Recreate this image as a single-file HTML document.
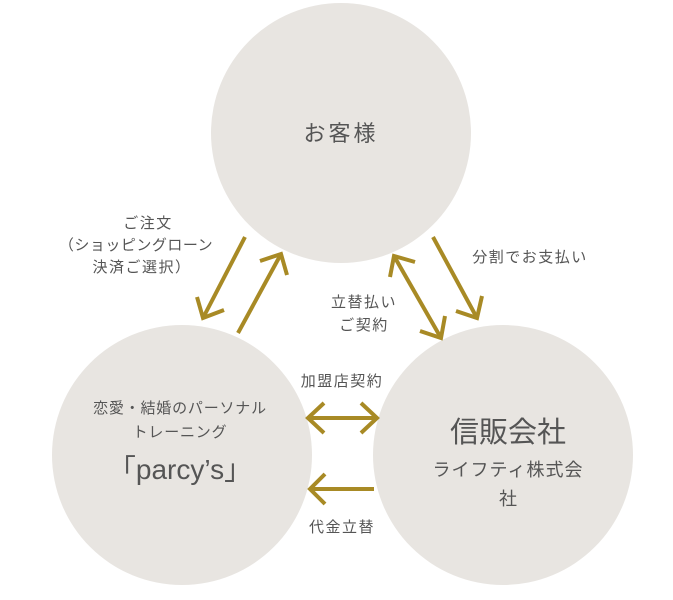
<!DOCTYPE html>
<html><head><meta charset="utf-8"><style>
html,body{margin:0;padding:0;background:#fff;}
svg text{font-family:"Liberation Sans","Noto Sans CJK JP",sans-serif;fill:#555;}
</style></head><body>
<svg width="673" height="595" viewBox="0 0 673 595" xmlns="http://www.w3.org/2000/svg">
<circle cx="341" cy="133" r="130" fill="#e8e5e1"/>
<circle cx="182" cy="455" r="130" fill="#e8e5e1"/>
<circle cx="503" cy="455" r="130" fill="#e8e5e1"/>
<g stroke="#a88a25" stroke-width="4" fill="none" stroke-linecap="butt">
<line x1="245" y1="237" x2="203" y2="318"/><polyline points="197,297 203,318 224,310"/>
<line x1="238" y1="333" x2="281" y2="254"/><polyline points="260,261 281,254 287,275"/>
<line x1="394" y1="256" x2="441" y2="338"/><polyline points="390,277 394,256 415,262"/><polyline points="420,331 441,338 445,316"/>
<line x1="433" y1="237" x2="477" y2="318"/><polyline points="456,311 477,318 482,296"/>
<line x1="308" y1="418" x2="377" y2="418"/><polyline points="324,403 308,418 324,433"/><polyline points="361,403 377,418 361,433"/>
<line x1="374" y1="489" x2="310" y2="489"/><polyline points="325,474 310,489 325,504"/>
</g>
<text x="341" y="141" font-size="22" text-anchor="middle" letter-spacing="3">お客様</text>
<g font-size="15" text-anchor="middle" letter-spacing="1.5">
<text x="148" y="228">ご注文</text>
<text x="136" y="250" letter-spacing="0.5">（ショッピングローン</text>
<text x="142" y="272">決済ご選択）</text>
<text x="530" y="262">分割でお支払い</text>
<text x="364" y="307">立替払い</text>
<text x="364" y="330">ご契約</text>
<text x="342" y="386">加盟店契約</text>
<text x="342" y="532">代金立替</text>
</g>
<text x="180" y="413" font-size="15" text-anchor="middle" letter-spacing="0.8">恋愛・結婚のパーソナル</text>
<text x="180" y="437" font-size="15" text-anchor="middle" letter-spacing="0.8">トレーニング</text>
<text x="180" y="479" font-size="28" text-anchor="middle">「parcy’s」</text>
<text x="508" y="442" font-size="29" text-anchor="middle">信販会社</text>
<text x="508" y="476" font-size="18" text-anchor="middle" letter-spacing="1">ライフティ株式会</text>
<text x="508" y="505" font-size="18" text-anchor="middle">社</text>
</svg>
</body></html>
